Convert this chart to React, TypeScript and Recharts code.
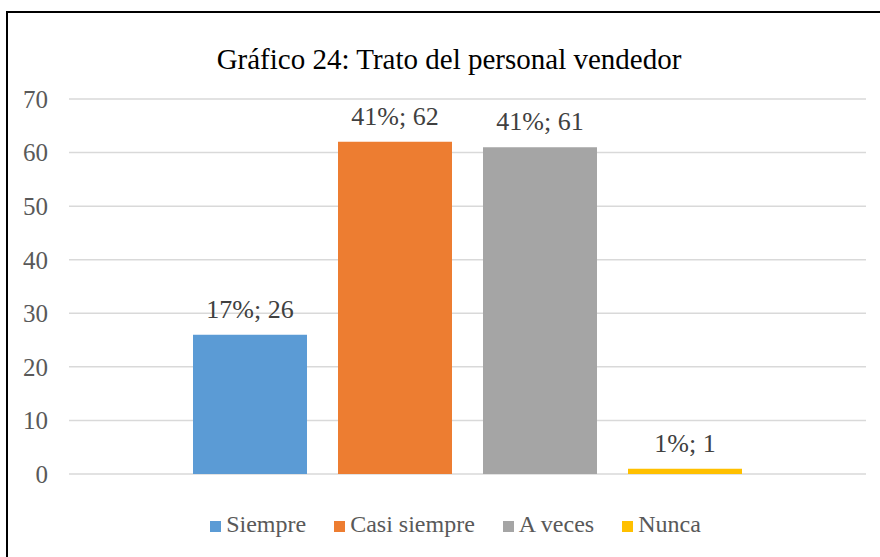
import { BarChart, Bar, XAxis, YAxis, CartesianGrid, LabelList } from 'recharts';

const categories = ['Siempre', 'Casi siempre', 'A veces', 'Nunca'];
const counts = [26, 62, 61, 1];
const percents = [17, 41, 41, 1];
const yTicks = [0, 10, 20, 30, 40, 50, 60, 70];
const colors = ['#5b9bd5', '#ed7d31', '#a5a5a5', '#ffc000'];

const FONT = "'Liberation Serif', 'Times New Roman', serif";

const row: Record<string, number | string> = { name: 'Trato' };
categories.forEach((c, i) => {
  row[c] = counts[i];
});
const data = [row];

export default function App() {
  return (
    <div
      style={{
        position: 'absolute',
        left: 0,
        top: 0,
        width: 880,
        height: 557,
        overflow: 'hidden',
        background: '#fff',
        fontFamily: FONT,
      }}
    >
      {/* marco del gráfico */}
      <div
        style={{
          position: 'absolute',
          left: 6,
          top: 11,
          width: 900,
          height: 600,
          borderLeft: '2px solid #000',
          borderTop: '2px solid #000',
        }}
      />

      <div
        style={{
          position: 'absolute',
          left: 0,
          top: 45,
          width: 898,
          textAlign: 'center',
          fontSize: 29,
          lineHeight: '29px',
          color: '#000',
        }}
      >
        Gráfico 24: Trato del personal vendedor
      </div>

      <div style={{ position: 'absolute', left: 0, top: 0 }}>
        <BarChart
          width={880}
          height={557}
          data={data}
          margin={{ top: 99, right: 14, bottom: 83, left: 0 }}
          barGap={31}
        >
          <CartesianGrid vertical={false} stroke="#d9d9d9" strokeWidth={1.5} />
          <XAxis dataKey="name" hide />
          <YAxis
            domain={[0, 70]}
            ticks={yTicks}
            axisLine={false}
            tickLine={false}
            tickSize={0}
            tickMargin={21}
            width={69}
            tick={{ fill: '#595959', fontSize: 25, fontFamily: FONT }}
          />
          {categories.map((c, i) => (
            <Bar
              key={c}
              dataKey={c}
              fill={colors[i]}
              barSize={114}
              isAnimationActive={false}
            >
              <LabelList
                dataKey={c}
                position="top"
                offset={17}
                formatter={(v: any) => `${percents[i]}%; ${v}`}
                fill="#404040"
                fontSize={26}
                fontFamily={FONT}
              />
            </Bar>
          ))}
        </BarChart>
      </div>

      {/* leyenda */}
      <div
        style={{
          position: 'absolute',
          left: 0,
          top: 512,
          width: 911,
          display: 'flex',
          justifyContent: 'center',
          gap: 28,
          fontSize: 24,
          lineHeight: '24px',
          color: '#595959',
        }}
      >
        {categories.map((c, i) => (
          <div key={c} style={{ whiteSpace: 'nowrap' }}>
            <span
              style={{
                display: 'inline-block',
                width: 11,
                height: 11,
                background: colors[i],
                marginRight: 5,
                verticalAlign: 'baseline',
              }}
            />
            {c}
          </div>
        ))}
      </div>
    </div>
  );
}
